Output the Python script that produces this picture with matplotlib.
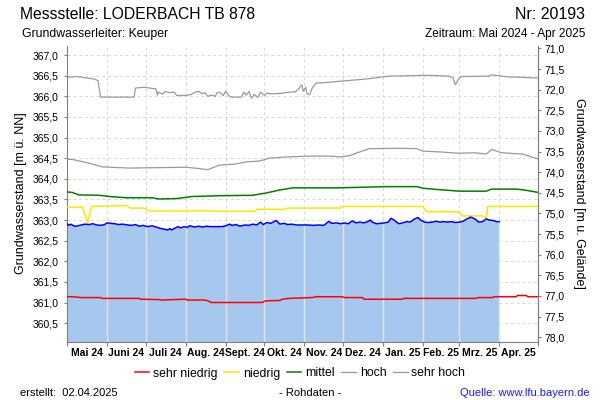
import numpy as np
import pandas as pd
import matplotlib
matplotlib.use('Agg')
from matplotlib import pyplot as plt
from matplotlib.ticker import FuncFormatter, FixedLocator

plt.rcParams['font.family'] = ['Liberation Sans', 'DejaVu Sans']

# Gelaendehoehe (m u. NN) fuer die rechte Achse
ground = 438.16

mess_dates = [
    '2024-05-01', '2024-05-02', '2024-05-04', '2024-05-06', '2024-05-08', '2024-05-12',
    '2024-05-15', '2024-05-18', '2024-05-21', '2024-05-24', '2024-05-27', '2024-05-30',
    '2024-06-01', '2024-06-04', '2024-06-07', '2024-06-10', '2024-06-13', '2024-06-17',
    '2024-06-20', '2024-06-23', '2024-06-26', '2024-06-29', '2024-07-02', '2024-07-06',
    '2024-07-09', '2024-07-12', '2024-07-15', '2024-07-18', '2024-07-20', '2024-07-21',
    '2024-07-24', '2024-07-26', '2024-07-28', '2024-07-31', '2024-08-02', '2024-08-04',
    '2024-08-08', '2024-08-11', '2024-08-14', '2024-08-17', '2024-08-20', '2024-08-25',
    '2024-08-29', '2024-09-01', '2024-09-04', '2024-09-06', '2024-09-09', '2024-09-12',
    '2024-09-16', '2024-09-19', '2024-09-22', '2024-09-25', '2024-09-28', '2024-09-30',
    '2024-10-03', '2024-10-06', '2024-10-10', '2024-10-13', '2024-10-16', '2024-10-19',
    '2024-10-22', '2024-10-26', '2024-10-30', '2024-11-03', '2024-11-08', '2024-11-12',
    '2024-11-16', '2024-11-20', '2024-11-22', '2024-11-26', '2024-11-29', '2024-12-02',
    '2024-12-05', '2024-12-08', '2024-12-11', '2024-12-14', '2024-12-17', '2024-12-20',
    '2024-12-22', '2024-12-24', '2024-12-27', '2024-12-30', '2025-01-02', '2025-01-05',
    '2025-01-07', '2025-01-09', '2025-01-13', '2025-01-16', '2025-01-19', '2025-01-22',
    '2025-01-25', '2025-01-28', '2025-01-30', '2025-02-02', '2025-02-05', '2025-02-08',
    '2025-02-11', '2025-02-14', '2025-02-17', '2025-02-20', '2025-02-23', '2025-02-26',
    '2025-03-01', '2025-03-04', '2025-03-07', '2025-03-10', '2025-03-13', '2025-03-16',
    '2025-03-19', '2025-03-22', '2025-03-24', '2025-03-27', '2025-03-30', '2025-04-01']
mess_values = [
    362.92, 362.87, 362.90, 362.86, 362.85, 362.88,
    362.90, 362.89, 362.91, 362.88, 362.87, 362.89,
    362.93, 362.92, 362.91, 362.89, 362.90, 362.88,
    362.87, 362.89, 362.85, 362.87, 362.84, 362.86,
    362.83, 362.80, 362.78, 362.76, 362.79, 362.76,
    362.81, 362.84, 362.81, 362.84, 362.82, 362.86,
    362.83, 362.85, 362.83, 362.85, 362.84, 362.84,
    362.84, 362.86, 362.90, 362.87, 362.89, 362.85,
    362.88, 362.87, 362.90, 362.88, 362.95, 362.89,
    362.94, 362.92, 362.99, 362.90, 362.92, 362.89,
    362.90, 362.88, 362.88, 362.88, 362.87, 362.88,
    362.87, 362.97, 362.92, 362.93, 362.91, 362.93,
    362.91, 362.98, 362.93, 362.95, 362.93, 362.96,
    363.00, 362.94, 362.91, 362.92, 362.93, 362.95,
    363.04, 363.01, 362.91, 362.93, 362.96, 362.95,
    363.02, 363.06, 363.00, 362.95, 362.94, 362.95,
    362.97, 362.95, 362.96, 362.95, 362.96, 362.94,
    362.95, 362.97, 363.03, 363.07, 363.03, 362.95,
    362.96, 363.03, 363.00, 362.99, 362.96, 362.96]

# sehr hoch
sh_dates = [
    '2024-05-01', '2024-05-08', '2024-05-22', '2024-05-25', '2024-05-27', '2024-06-22',
    '2024-06-23', '2024-06-30', '2024-07-04', '2024-07-09', '2024-07-10', '2024-07-11',
    '2024-07-14', '2024-07-16', '2024-07-19', '2024-07-23', '2024-07-25', '2024-07-31',
    '2024-08-05', '2024-08-08', '2024-08-11', '2024-08-14', '2024-08-16', '2024-08-18',
    '2024-08-21', '2024-08-24', '2024-08-25', '2024-08-27', '2024-08-30', '2024-09-01',
    '2024-09-04', '2024-09-05', '2024-09-13', '2024-09-15', '2024-09-17', '2024-09-19',
    '2024-09-21', '2024-09-23', '2024-09-26', '2024-09-28', '2024-10-01', '2024-10-03',
    '2024-10-06', '2024-10-13', '2024-10-20', '2024-10-25', '2024-10-28', '2024-10-30',
    '2024-10-31', '2024-11-02', '2024-11-03', '2024-11-05', '2024-11-07', '2024-11-10',
    '2024-11-20', '2024-11-30', '2024-12-19', '2024-12-29', '2025-01-06', '2025-02-04',
    '2025-02-21', '2025-02-24', '2025-02-26', '2025-02-28', '2025-03-01', '2025-03-03',
    '2025-03-24', '2025-03-26', '2025-04-01', '2025-04-07', '2025-04-19', '2025-05-01']
sh_values = [
    366.46, 366.48, 366.42, 366.38, 365.98, 365.98,
    366.20, 366.22, 366.20, 366.18, 366.03, 366.10,
    366.05, 366.12, 366.09, 366.10, 366.02, 366.02,
    366.04, 366.10, 366.12, 366.06, 366.09, 366.00,
    366.03, 366.00, 366.08, 366.10, 366.02, 366.12,
    366.00, 365.98, 365.98, 366.10, 366.03, 366.12,
    365.95, 366.05, 365.97, 366.10, 366.02, 366.08,
    366.06, 366.07, 366.10, 366.11, 366.20, 366.28,
    366.12, 366.22, 366.06, 366.04, 366.20, 366.32,
    366.34, 366.37, 366.42, 366.46, 366.49, 366.51,
    366.49, 366.45, 366.28, 366.40, 366.44, 366.48,
    366.49, 366.52, 366.50, 366.47, 366.46, 366.44]

# hoch
h_dates = [
    '2024-05-01', '2024-05-05', '2024-05-18', '2024-05-28', '2024-06-18', '2024-08-01',
    '2024-08-11', '2024-08-18', '2024-08-27', '2024-09-09', '2024-09-17', '2024-09-27',
    '2024-10-05', '2024-10-18', '2024-11-05', '2024-11-20', '2024-11-30', '2024-12-07',
    '2024-12-11', '2024-12-21', '2025-01-14', '2025-01-27', '2025-02-01', '2025-02-15',
    '2025-02-28', '2025-03-13', '2025-03-22', '2025-03-26', '2025-04-03', '2025-04-19',
    '2025-05-01']
h_values = [
    364.47, 364.47, 364.38, 364.29, 364.26, 364.28,
    364.25, 364.22, 364.33, 364.36, 364.41, 364.43,
    364.50, 364.53, 364.55, 364.55, 364.53, 364.57,
    364.62, 364.73, 364.74, 364.73, 364.67, 364.65,
    364.62, 364.63, 364.60, 364.71, 364.63, 364.60,
    364.48]

# mittel
m_dates = [
    '2024-05-01', '2024-05-05', '2024-05-10', '2024-05-26', '2024-06-03', '2024-06-16',
    '2024-07-06', '2024-07-11', '2024-07-25', '2024-08-06', '2024-08-27', '2024-09-22',
    '2024-10-03', '2024-10-13', '2024-10-23', '2024-11-27', '2025-01-04', '2025-01-27',
    '2025-02-01', '2025-02-16', '2025-03-01', '2025-03-22', '2025-03-26', '2025-04-14',
    '2025-04-20', '2025-05-01']
m_values = [
    363.68, 363.67, 363.61, 363.60, 363.57, 363.54,
    363.54, 363.51, 363.52, 363.57, 363.59, 363.60,
    363.66, 363.73, 363.78, 363.78, 363.81, 363.81,
    363.77, 363.73, 363.70, 363.70, 363.75, 363.75,
    363.73, 363.67]

# niedrig
n_dates = [
    '2024-05-01', '2024-05-13', '2024-05-17', '2024-05-20', '2024-06-16', '2024-06-19',
    '2024-06-30', '2024-07-04', '2024-08-24', '2024-08-25', '2024-09-24', '2024-09-25',
    '2024-10-17', '2024-10-19', '2024-11-29', '2024-11-30', '2025-02-01', '2025-02-02',
    '2025-02-04', '2025-03-01', '2025-03-03', '2025-03-19', '2025-03-20', '2025-03-22',
    '2025-03-23', '2025-05-01']
n_values = [
    363.31, 363.31, 362.93, 363.33, 363.35, 363.29,
    363.29, 363.22, 363.22, 363.21, 363.21, 363.26,
    363.26, 363.29, 363.29, 363.33, 363.33, 363.27,
    363.20, 363.20, 363.10, 363.10, 363.07, 363.07,
    363.33, 363.33]

# sehr niedrig
sn_dates = [
    '2024-05-01', '2024-05-05', '2024-05-12', '2024-05-27', '2024-05-28', '2024-06-26',
    '2024-06-27', '2024-07-12', '2024-07-13', '2024-08-01', '2024-08-02', '2024-08-16',
    '2024-08-19', '2024-08-21', '2024-09-29', '2024-10-02', '2024-10-13', '2024-10-15',
    '2024-10-20', '2024-11-07', '2024-11-10', '2024-11-30', '2024-12-02', '2024-12-16',
    '2024-12-17', '2025-01-16', '2025-01-17', '2025-03-14', '2025-03-16', '2025-03-27',
    '2025-03-28', '2025-04-14', '2025-04-15', '2025-04-22', '2025-04-23', '2025-05-01']
sn_values = [
    361.14, 361.14, 361.12, 361.12, 361.10, 361.10,
    361.08, 361.07, 361.06, 361.08, 361.06, 361.06,
    361.03, 361.00, 361.00, 361.04, 361.05, 361.08,
    361.10, 361.12, 361.14, 361.14, 361.12, 361.12,
    361.08, 361.08, 361.10, 361.10, 361.12, 361.12,
    361.14, 361.14, 361.17, 361.17, 361.14, 361.14]

month_labels = ['Mai 24', 'Juni 24', 'Juli 24', 'Aug. 24', 'Sept. 24', 'Okt. 24',
                'Nov. 24', 'Dez. 24', 'Jan. 25', 'Feb. 25', 'Mrz. 25', 'Apr. 25']

series = [
    ('sehr niedrig', sn_dates, sn_values, '#ff0000', 1.1),
    ('niedrig', n_dates, n_values, '#ffe600', 1.1),
    ('mittel', m_dates, m_values, '#008000', 1.1),
    ('hoch', h_dates, h_values, '#9a9a9a', 0.9),
    ('sehr hoch', sh_dates, sh_values, '#9a9a9a', 0.9),
]

comma = FuncFormatter(lambda v, p: ('%.1f' % v).replace('.', ','))

fig = plt.figure(figsize=(6, 4), dpi=100)
ax = fig.add_axes([0.1117, 0.1458, 0.785, 0.7392])

ymin, ymax = 360.05, 367.22
x0, x1 = pd.Timestamp('2024-05-01'), pd.Timestamp('2025-05-01')
ax.set_xlim(x0, x1)
ax.set_ylim(ymin, ymax)

months = pd.date_range('2024-05-01', '2025-05-01', freq='MS')
mids = months[:-1] + (months[1:] - months[:-1]) / 2

# grid (dashed, below the fill)
for y in np.arange(360.5, 367.01, 0.5):
    ax.axhline(y, color='#d8d8d8', lw=0.7, ls=(0, (3, 3)), zorder=0)
for m in months[1:-1]:
    ax.axvline(m, color='#d8d8d8', lw=0.7, ls=(0, (3, 3)), zorder=0)

md = pd.to_datetime(mess_dates)
ax.fill_between(md, mess_values, ymin, color='#a6c8ef', lw=0, zorder=1)

# month lines inside the fill
mnum = md.map(pd.Timestamp.toordinal).values
for m in months[1:-1]:
    top = np.interp(m.toordinal(), mnum, mess_values)
    if m <= md[-1]:
        ax.vlines(m, ymin, top, color='#e4e4e4', lw=1.0, zorder=2)

for name, d, v, c, lw in series:
    ax.plot(pd.to_datetime(d), v, color=c, lw=lw, zorder=3, label=name)
ax.plot(md, mess_values, color='#0000ff', lw=1.1, zorder=4)

# axes styling
ax.spines['top'].set_visible(False)
for s in ['left', 'right', 'bottom']:
    ax.spines[s].set_color('#808080')

ax.yaxis.set_major_locator(FixedLocator(np.arange(360.5, 367.01, 0.5)))
ax.yaxis.set_major_formatter(comma)
ax.tick_params(axis='y', which='major', labelsize=7.5, length=2.5, width=0.8,
               color='#808080', pad=3.5)

ax.xaxis.set_major_locator(FixedLocator([matplotlib.dates.date2num(m) for m in months]))
ax.xaxis.set_minor_locator(FixedLocator([matplotlib.dates.date2num(m) for m in mids]))
ax.xaxis.set_major_formatter(FuncFormatter(lambda v, p: ''))
ax.xaxis.set_minor_formatter(FuncFormatter(lambda v, p: month_labels[p] if p < len(month_labels) else ''))
ax.tick_params(axis='x', which='major', length=3, width=0.8, color='#808080')
ax.tick_params(axis='x', which='minor', length=0, labelsize=7.5, pad=4.5)
for t in ax.xaxis.get_minorticklabels():
    t.set_fontweight('bold')

sec = ax.secondary_yaxis('right', functions=(lambda y: ground - y, lambda d: ground - d))
sec.yaxis.set_major_locator(FixedLocator(np.arange(71.0, 78.01, 0.5)))
sec.yaxis.set_major_formatter(comma)
sec.tick_params(labelsize=7.5, length=2.5, width=0.8, color='#808080', pad=2)
sec.spines['right'].set_color('#808080')

# texts
fig.text(20 / 600, 1 - 19.3 / 400, 'Messstelle: LODERBACH TB 878', fontsize=11.3,
         ha='left', va='baseline')
fig.text(585 / 600, 1 - 19.3 / 400, 'Nr: 20193', fontsize=11.5, ha='right', va='baseline')
fig.text(22 / 600, 1 - 37.3 / 400, 'Grundwasserleiter: Keuper', fontsize=8.8,
         ha='left', va='baseline')
fig.text(585 / 600, 1 - 37.3 / 400, 'Zeitraum: Mai 2024 - Apr 2025', fontsize=8.6,
         ha='right', va='baseline')
fig.text(21 / 600, 1 - 193 / 400, 'Grundwasserstand [m ü. NN]', fontsize=9,
         rotation=90, ha='center', va='center')
fig.text(579 / 600, 1 - 193 / 400, 'Grundwasserstand [m u. Gelände]', fontsize=9,
         rotation=270, ha='center', va='center')

fig.legend(loc='center', bbox_to_anchor=(300 / 600, 1 - 373.5 / 400), ncol=5,
           frameon=False, fontsize=8.8, handlelength=1.2, handletextpad=0.3,
           columnspacing=0.55)

fig.text(20 / 600, 1 - 393 / 400, 'erstellt:  02.04.2025', fontsize=8, ha='left', va='center')
fig.text(310 / 600, 1 - 393 / 400, '- Rohdaten -', fontsize=8, ha='center', va='center')
fig.text(590 / 600, 1 - 393 / 400, 'Quelle: www.lfu.bayern.de', fontsize=8,
         color='#1a1aff', ha='right', va='center')

fig.savefig('out.png', dpi=100)
